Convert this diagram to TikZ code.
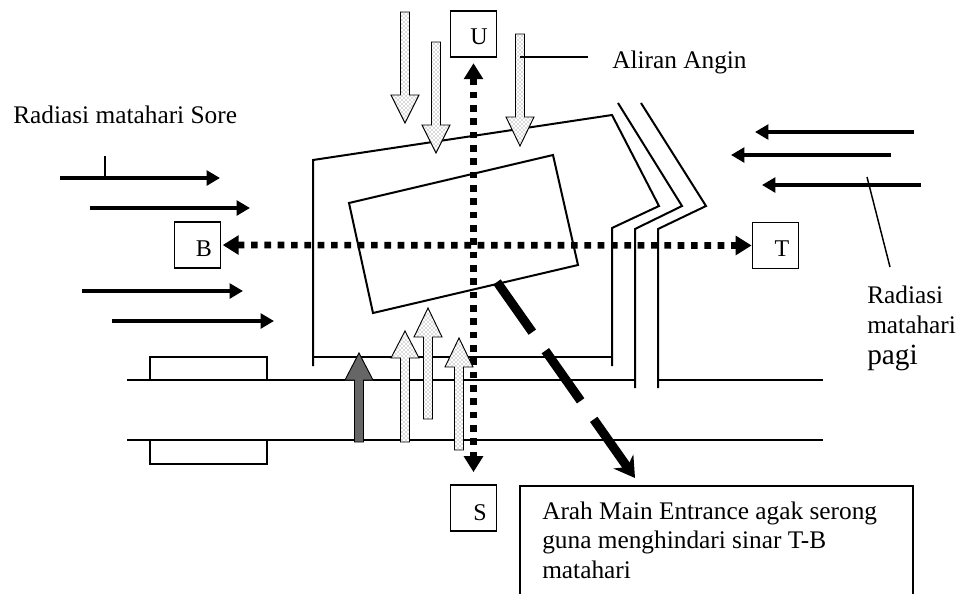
\documentclass[tikz,border=0pt]{standalone}
\usepackage{fontspec}
\setmainfont{Liberation Serif}
\usetikzlibrary{arrows.meta,patterns}
\tikzset{
  wall/.style={line width=1.5pt},
  thinline/.style={line width=1.1pt},
  dirbox/.style={draw, line width=1.3pt, minimum size=34.5pt, inner sep=0pt},
  dirtext/.style={inner sep=0pt, font=\fontsize{18}{20}\selectfont},
  caption/.style={inner sep=0pt, anchor=west, font=\fontsize{19}{21}\selectfont},
  sunray/.style={line width=3pt, -{Triangle[length=10pt,width=11pt]}},
  compass/.style={line width=5pt, dash pattern=on 5pt off 5pt, {Triangle[length=12pt,width=14pt]}-{Triangle[length=12pt,width=14pt]}},
  entrance/.style={line width=6.8pt, dash pattern=on 46pt off 17pt, -{Stealth[length=15pt,width=18pt]}},
  airflow/.style={draw, line width=0.7pt, pattern=crosshatch dots, pattern color=black!60},
  airdark/.style={draw, line width=0.7pt, fill=black!60},
}
% block arrow: x, tail y, head base y, tip y
\newcommand{\airarrow}[5][airflow]{
  \fill[white] (#2-4.5,#3) -- (#2-4.5,#4) -- (#2-14,#4) -- (#2,#5) -- (#2+14,#4) -- (#2+4.5,#4) -- (#2+4.5,#3) -- cycle;
  \path[#1] (#2-4.5,#3) -- (#2-4.5,#4) -- (#2-14,#4) -- (#2,#5) -- (#2+14,#4) -- (#2+4.5,#4) -- (#2+4.5,#3) -- cycle;
}
\begin{document}
\begin{tikzpicture}[x=0.75pt, y=-0.75pt]
  \useasboundingbox (0,0) rectangle (958,594);

  % Road and the two blocks beside it
  \draw[wall] (127,380) -- (635,380);
  \draw[wall] (658,380) -- (823,380);
  \draw[wall] (127,440) -- (823,440);
  \draw[wall] (150,380) -- (150,357) -- (267,357) -- (267,380);
  \draw[wall] (150,440) -- (150,464) -- (267,464) -- (267,440);

  % Site boundary
  \draw[wall] (313,366) -- (313,160) -- (612,115) -- (659,206) -- (612,228) -- (612,366);
  \draw[wall] (313,357) -- (612,357);

  % Side road
  \draw[wall] (618,103) -- (682,206) -- (635,229) -- (635,388);
  \draw[wall] (641,103) -- (706,206) -- (658,229) -- (658,388);

  % Building
  \draw[wall] (349,203) -- (553,155) -- (578,265) -- (373,313) -- cycle;

  % Direction boxes
  \node[dirbox] (boxU) at (473.5,34) {};
  \node[dirbox] (boxS) at (473.5,508) {};
  \node[dirbox] (boxB) at (197.5,245) {};
  \node[dirbox] (boxT) at (775.5,245.5) {};
  \node[dirtext] (letterU) at (479,37) {U};
  \node[dirtext] (letterS) at (480,513) {S};
  \node[dirtext] (letterB) at (204,249) {B};
  \node[dirtext] (letterT) at (782,249) {T};

  % Compass axes
  \draw[compass, shorten <=4pt, shorten >=9pt] (boxU) -- (boxS);
  \draw[compass, shorten <=1pt, shorten >=0pt] (boxB) -- (boxT);

  % Morning and afternoon sun
  \foreach \ya/\xa/\xb in {178/60/220, 208/90/250, 291/82/243, 321/112/274}
    \draw[sunray] (\xa,\ya) -- (\xb,\ya);
  \foreach \ya/\xa/\xb in {132/914/755, 155/891/731, 185/921/762}
    \draw[sunray] (\xa,\ya) -- (\xb,\ya);

  % Wind from above
  \airarrow{405}{12}{95}{123}
  \airarrow{436}{42}{125}{153}
  \airarrow{520}{34}{117}{146}

  % Wind from below
  \airarrow[airdark]{359}{442}{380}{353}
  \airarrow{405}{442}{358}{331}
  \airarrow{428}{419}{337}{308}
  \airarrow{459}{450}{367}{338}

  % Main entrance direction
  \coordinate (doorStart) at (497,282);
  \coordinate (doorEnd) at (635,478);
  \draw[entrance] (doorStart) -- (doorEnd);

  % Labels
  \node[caption] (sore) at (13,115) {Radiasi matahari Sore};
  \node[caption] (angin) at (612,62) {Aliran Angin};
  \node[caption] (pagiA) at (867,295) {Radiasi};
  \node[caption] (pagiB) at (867,325) {matahari};
  \node[caption, font=\fontsize{22}{24}\selectfont] (pagiC) at (867,358) {pagi};

  % Leader lines
  \coordinate (soreTick) at (105,178);
  \coordinate (soreTop) at (105,156);
  \draw[thinline] (soreTop) -- (soreTick);
  \coordinate (anginTick) at (520,57);
  \coordinate (anginEnd) at (588,57);
  \draw[thinline] (anginTick) -- (anginEnd);
  \coordinate (pagiTick) at (867,177);
  \coordinate (pagiEnd) at (890,267);
  \draw[thinline] (pagiTick) -- (pagiEnd);

  % Note box, open at the page edge
  \draw[wall] (520,594) -- (520,486) -- (913,486) -- (913,594);
  \node[caption] (noteA) at (542,513) {Arah Main Entrance agak serong};
  \node[caption] (noteB) at (542,542) {guna menghindari sinar T-B};
  \node[caption] (noteC) at (542,570) {matahari};
\end{tikzpicture}
\end{document}
